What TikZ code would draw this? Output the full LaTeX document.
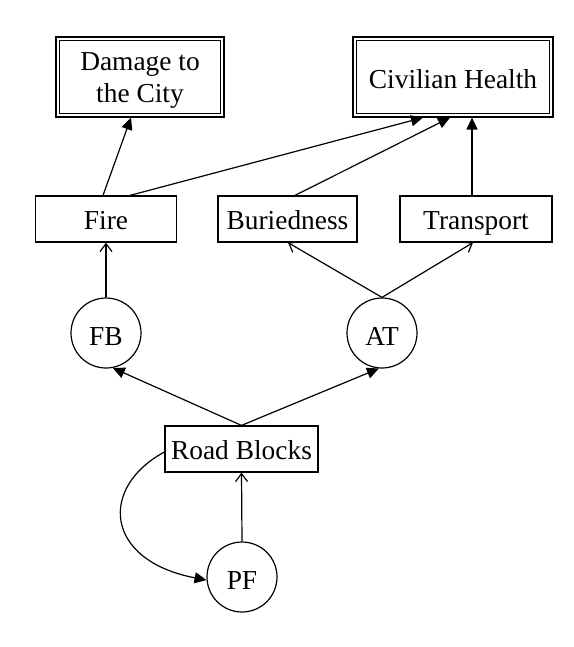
\documentclass[tikz,border=0pt]{standalone}
\usepackage{fontspec}
\setmainfont{Liberation Serif}
\usetikzlibrary{arrows.meta}
\begin{document}
\begin{tikzpicture}[x=1pt,y=-1pt,
  every node/.style={font=\fontsize{27.4}{32}\selectfont, inner sep=0pt, align=center},
  boxnode/.style={draw, line width=1.2pt, rectangle, minimum height=46pt, text height=20pt, text depth=0pt},
  dblbox/.style={draw, line width=1.2pt, rectangle, minimum height=80pt},
  circnode/.style={draw, line width=1.2pt, circle, minimum size=70pt, text height=24pt, text depth=0pt},
  fedge/.style={line width=1.2pt, -{Triangle[length=12pt,width=11pt]}},
  oedge/.style={line width=1.2pt, -{Straight Barb[length=8pt,width=12pt,line width=1.2pt]}}]
\useasboundingbox (0,0) rectangle (573,647);
\node[dblbox, minimum width=168pt, text height=52pt, text depth=0pt] (dmg) at (140,77) {\begin{tabular}[b]{@{}c@{}}Damage to\\the City\end{tabular}};
\node[dblbox, minimum width=200pt, text height=24pt, text depth=0pt] (civ) at (453,77) {Civilian Health};
\draw[line width=1.2pt] ([xshift=4pt,yshift=-4pt]dmg.north west) rectangle ([xshift=-4pt,yshift=4pt]dmg.south east);
\draw[line width=1.2pt] ([xshift=4pt,yshift=-4pt]civ.north west) rectangle ([xshift=-4pt,yshift=4pt]civ.south east);
\node[boxnode, minimum width=141pt] (fire) at (106,219) {Fire};
\node[boxnode, minimum width=139pt] (bur) at (287.5,219) {Buriedness};
\node[boxnode, minimum width=152pt] (trans) at (476,219) {Transport};
\node[circnode] (fb) at (106,333) {FB};
\node[circnode] (at) at (382,333) {AT};
\node[boxnode, minimum width=153pt] (rb) at (241.5,449) {Road Blocks};
\node[circnode] (pf) at (242,577) {PF};
% top edges
\draw[fedge] ([xshift=-3pt]fire.north) -- ([xshift=-9pt]dmg.south);
\draw[fedge] ([xshift=24pt]fire.north) -- ([xshift=-30pt]civ.south);
\draw[fedge] ([xshift=7.5pt]bur.north) -- ([xshift=-3pt]civ.south);
\draw[fedge] ([xshift=-4pt]trans.north) -- ([xshift=19pt]civ.south);
% middle edges
\draw[oedge] (fb.north) -- (fire.south);
\draw[oedge] (at.north) -- ([xshift=0.5pt]bur.south);
\draw[oedge] (at.north) -- ([xshift=-3pt]trans.south);
% bottom edges
\draw[fedge] (rb.north) -- (fb.-79);
\draw[fedge] (rb.north) -- (at.-95);
\draw[oedge] (pf.north) -- (rb.south);
\draw[fedge] ([yshift=-3pt]rb.west) .. controls +(-65,35) and +(-103,-20) .. (pf.185);
\end{tikzpicture}
\end{document}
